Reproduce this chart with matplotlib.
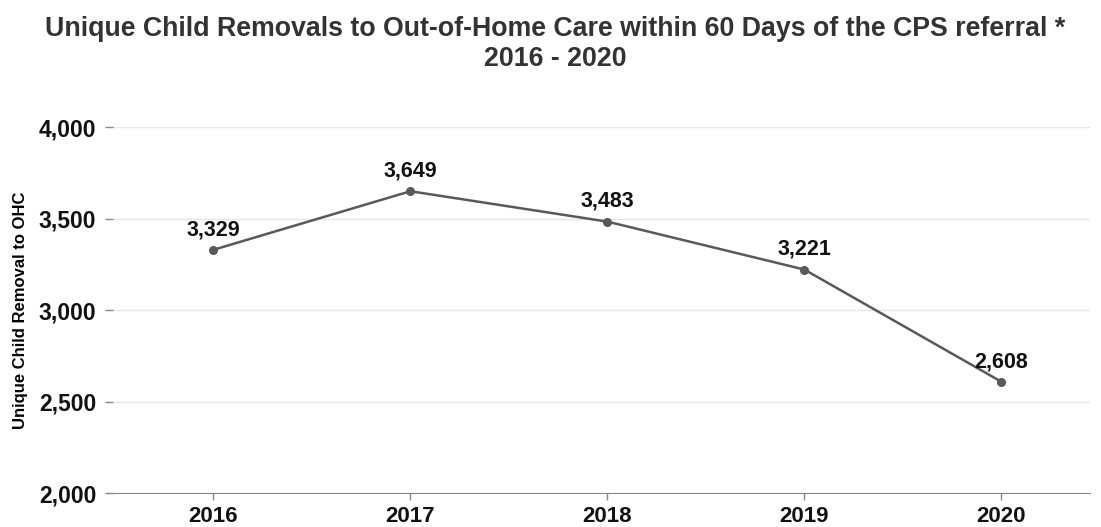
import matplotlib.pyplot as plt
from matplotlib.ticker import FuncFormatter

plt.rcParams['font.family'] = ['Liberation Sans', 'DejaVu Sans']

years = [2016, 2017, 2018, 2019, 2020]
removals = [3329, 3649, 3483, 3221, 2608]

fig = plt.figure(figsize=(11.01, 5.27), dpi=100)
ax = fig.add_axes([0.1026, 0.0645, 0.8874, 0.6945])

ax.plot(years, removals, color='#595959', lw=1.8, marker='o', ms=5.5, zorder=3)
for x, y in zip(years, removals):
    ax.annotate(f'{y:,}', (x, y), xytext=(0, 7), textcoords='offset points',
                ha='center', va='bottom', fontsize=15.5, fontweight='bold', color='#111111')

ax.set_xlim(2015.49, 2020.45)
ax.set_ylim(2000, 4000)
ax.set_xticks(years)
ax.set_yticks([2000, 2500, 3000, 3500, 4000])
ax.yaxis.set_major_formatter(FuncFormatter(lambda v, p: f'{int(v):,}'))
ax.grid(axis='y', color='#e6e6e6', lw=1)
ax.set_axisbelow(True)
for s in ['top', 'right', 'left']:
    ax.spines[s].set_visible(False)
ax.spines['bottom'].set_color('#888888')
ax.tick_params(axis='y', length=6, width=1, color='#888888', pad=6, labelsize=16.5)
ax.tick_params(axis='x', length=5, width=1, color='#888888', pad=4.5, labelsize=16)
for lab in ax.get_xticklabels() + ax.get_yticklabels():
    lab.set_fontweight('bold')
    lab.set_color('#111111')
ax.set_ylabel('Unique Child Removal to OHC', fontsize=12, fontweight='bold', labelpad=8)

fig.suptitle('Unique Child Removals to Out-of-Home Care within 60 Days of the CPS referral *\n2016 - 2020',
             x=0.504, y=0.97, fontsize=19.3, fontweight='bold', color='#333333', linespacing=1.2)

fig.savefig('out.png', dpi=100)
